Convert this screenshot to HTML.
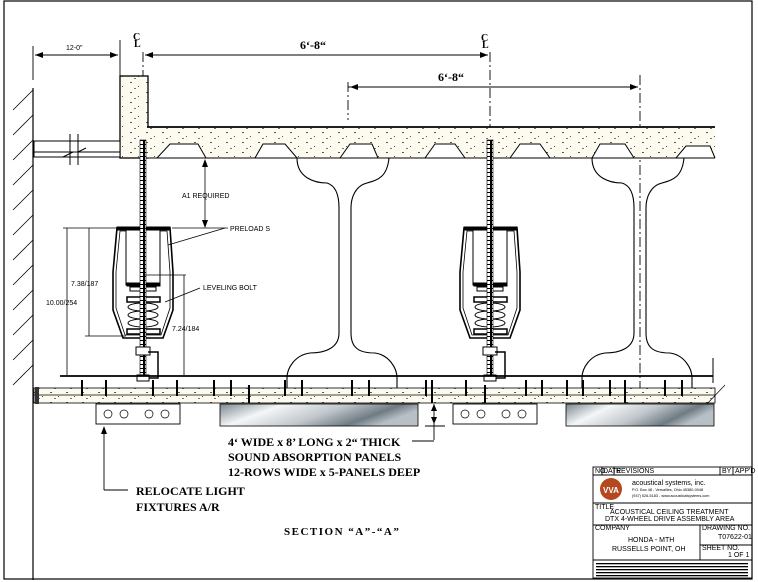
<!DOCTYPE html>
<html><head><meta charset="utf-8"><style>
html,body{margin:0;padding:0;background:#fff;}
svg{display:block;}
.t{font-family:"Liberation Sans",sans-serif;font-size:7px;fill:#000;}
.b{font-family:"Liberation Serif",serif;font-weight:bold;fill:#000;}
</style></head><body>
<svg width="758" height="582" viewBox="0 0 758 582" xmlns="http://www.w3.org/2000/svg">
<defs>
<pattern id="dots" width="16" height="10" patternUnits="userSpaceOnUse">
<rect width="16" height="10" fill="#fdfbef"/>
<rect x="2" y="2" width="2" height="1" fill="#555"/><rect x="10" y="6" width="1" height="1" fill="#555"/><rect x="6" y="8" width="2" height="1" fill="#777"/>
</pattern>
<pattern id="thr" width="6" height="4" patternUnits="userSpaceOnUse">
<rect width="6" height="4" fill="#fff"/><rect x="0" y="0" width="6" height="1" fill="#000"/><rect x="0" y="0" width="1" height="4" fill="#000"/><rect x="5" y="0" width="1" height="4" fill="#000"/>
</pattern>
<linearGradient id="gp" x1="0" y1="0" x2="1" y2="0.3">
<stop offset="0" stop-color="#7c8790"/><stop offset="0.3" stop-color="#f4f6f7"/><stop offset="0.6" stop-color="#c0c6cb"/><stop offset="0.85" stop-color="#6f7b84"/><stop offset="1" stop-color="#b8c0c6"/>
</linearGradient>
<g id="iso" fill="none" stroke="#000">
<path d="M117,228 L170,228 L173,272 L173,310 L163,338 L123,338 L113,310 L113,272 Z" stroke-width="1.6"/>
<path d="M120,231 L167,231 L170,272 L170,308 L161,335 L125,335 L116,308 L116,272 Z" stroke-width="0.8"/>
<rect x="126" y="230" width="34" height="55" fill="#fff"/>
<rect x="117" y="227" width="53" height="3" fill="#000"/>
<rect x="127" y="283" width="33" height="3" fill="#000"/>
<rect x="130" y="287" width="26" height="4" fill="#fff"/>
<rect x="127" y="297" width="33" height="5" fill="#fff" stroke-width="1.5"/>
<ellipse cx="143" cy="307" rx="15" ry="4"/><ellipse cx="143" cy="315" rx="15" ry="4"/><ellipse cx="143" cy="323" rx="15" ry="4"/>
<rect x="127" y="329" width="33" height="5" fill="#fff" stroke-width="1.5"/>
<rect x="140" y="140" width="6" height="238" fill="url(#thr)" stroke-width="0.6"/>
<rect x="136" y="347" width="14" height="8" fill="#fff"/>
<path d="M148,352 L158,352 L158,378 L148,378" stroke-width="1.5"/>
<rect x="137" y="375" width="12" height="6" fill="#fff"/>
</g>
<g id="beam" fill="none" stroke="#000" stroke-width="1.1">
<path d="M-48,0 C-48,20 -30,25 -18,25 C-8,28 -6,40 -6,50 L-6,175 C-6,190 -20,195 -35,195 C-50,197 -58,210 -58,220 L-58,235 L52,235 L52,220 C52,210 44,197 30,195 C14,195 6,190 6,175 L6,50 C6,40 10,28 22,25 C32,22 42,20 44,0"/>
</g>
</defs>

<rect x="4" y="1" width="748" height="578" fill="none" stroke="#000" stroke-width="1.2"/>

<line x1="33" y1="88" x2="33" y2="580" stroke="#000" stroke-width="1.2"/>
<g stroke="#000" stroke-width="0.8">
<line x1="13" y1="110" x2="33" y2="90"/><line x1="13" y1="135" x2="33" y2="115"/><line x1="13" y1="160" x2="33" y2="140"/><line x1="13" y1="185" x2="33" y2="165"/><line x1="13" y1="210" x2="33" y2="190"/><line x1="13" y1="235" x2="33" y2="215"/><line x1="13" y1="260" x2="33" y2="240"/><line x1="13" y1="285" x2="33" y2="265"/><line x1="13" y1="310" x2="33" y2="290"/><line x1="13" y1="335" x2="33" y2="315"/><line x1="13" y1="360" x2="33" y2="340"/><line x1="13" y1="385" x2="33" y2="365"/>
</g>

<g stroke="#000" stroke-width="0.9" fill="none">
<line x1="33" y1="46" x2="33" y2="80"/><line x1="120" y1="40" x2="120" y2="76"/>
<line x1="35" y1="55" x2="118" y2="55"/>
<line x1="145" y1="55" x2="488" y2="55"/>
<line x1="348" y1="87" x2="638" y2="87"/>
<line x1="143" y1="52" x2="143" y2="380" stroke-dasharray="10,3,2,3"/>
<line x1="490" y1="52" x2="490" y2="380" stroke-dasharray="10,3,2,3"/>
<line x1="348" y1="82" x2="348" y2="120" stroke-dasharray="10,3,2,3"/>
<line x1="640" y1="75" x2="640" y2="400" stroke-dasharray="10,3,2,3"/>
</g>
<g fill="#000">
<path d="M35,55 l8,-3 v6z"/><path d="M118,55 l-8,-3 v6z"/><path d="M145,55 l8,-3 v6z"/><path d="M488,55 l-8,-3 v6z"/><path d="M350,87 l8,-3 v6z"/><path d="M638,87 l-8,-3 v6z"/>
</g>
<text x="66" y="50" class="t" font-size="8">12-0"</text>
<text x="300" y="49" class="b" font-size="12">6‘-8“</text>
<text x="438" y="81" class="b" font-size="12">6‘-8“</text>
<text x="133" y="40" class="b" font-size="10">C</text><text x="134" y="47" class="b" font-size="10">L</text>
<text x="481" y="41" class="b" font-size="10">C</text><text x="482" y="48" class="b" font-size="10">L</text>

<rect x="120" y="76" width="28" height="82" fill="url(#dots)" stroke="#000" stroke-width="1.3"/>
<path d="M147,127 L715,127 L715,158 L147,158 Z" fill="url(#dots)"/>
<line x1="147" y1="127" x2="715" y2="127" stroke="#000" stroke-width="1.8"/>
<path d="M120,158 L157,158 L170,144 L198,144 L206,158 L255,158 L263,144 L285,144 L297,158 L340,158 L350,144 L372,144 L378,158 L425,158 L435,144 L455,144 L465,158 L510,158 L520,144 L540,144 L550,158 L592,158 L600,144 L625,144 L634,158 L676,158 L686,146 L710,146 L715,158" fill="#fff" stroke="#000" stroke-width="1"/>
<line x1="120" y1="158" x2="715" y2="158" stroke="#000" stroke-width="1"/>
<rect x="34" y="141" width="86" height="16" fill="#fff" stroke="#000" stroke-width="1"/>
<line x1="34" y1="152" x2="120" y2="152" stroke="#000"/>
<g stroke="#000"><line x1="70" y1="134" x2="70" y2="165"/><line x1="78" y1="134" x2="78" y2="165"/><path d="M63,157 l10,-5 l5,0 l8,-4" fill="none"/></g>

<use href="#beam" x="345" y="158"/>
<use href="#beam" x="640" y="158"/>

<use href="#iso"/>
<use href="#iso" x="347"/>

<g stroke="#000" stroke-width="0.8" fill="none">
<line x1="205" y1="163" x2="205" y2="226"/>
<line x1="172" y1="228" x2="228" y2="228"/>
<line x1="168" y1="245" x2="225" y2="228"/>
<line x1="165" y1="302" x2="200" y2="288"/>
<line x1="67" y1="228" x2="67" y2="375"/><line x1="63" y1="228" x2="118" y2="228"/>
<line x1="89" y1="228" x2="89" y2="336"/><line x1="85" y1="336" x2="126" y2="336"/>
<line x1="184" y1="275" x2="184" y2="375"/><line x1="145" y1="275" x2="186" y2="275"/>
</g>
<path d="M205,159 l-3,8 h6z M205,228 l-3,-8 h6z" fill="#000"/>
<text x="182" y="198" class="t" font-size="6.5">A1 REQUIRED</text>
<text x="230" y="231" class="t">PRELOAD S</text>
<text x="203" y="290" class="t">LEVELING BOLT</text>
<text x="71" y="286" class="t">7.38/187</text>
<text x="46" y="305" class="t">10.00/254</text>
<text x="172" y="331" class="t">7.24/184</text>

<line x1="60" y1="376" x2="713" y2="376" stroke="#000" stroke-width="1.8"/>
<rect x="34" y="388" width="681" height="15" fill="url(#dots)" stroke="#000" stroke-width="0.8"/>
<line x1="34" y1="395" x2="715" y2="395" stroke="#000" stroke-width="0.8"/>
<rect x="35" y="387" width="4" height="17" fill="#333"/>
<g stroke="#000" stroke-width="2">
<line x1="82" y1="380" x2="82" y2="396"/><line x1="106" y1="380" x2="106" y2="396"/><line x1="153" y1="380" x2="153" y2="396"/><line x1="177" y1="380" x2="177" y2="396"/><line x1="214" y1="380" x2="214" y2="396"/><line x1="231" y1="380" x2="231" y2="396"/><line x1="249" y1="385" x2="249" y2="403"/><line x1="285" y1="380" x2="285" y2="396"/><line x1="302" y1="380" x2="302" y2="396"/><line x1="352" y1="380" x2="352" y2="396"/><line x1="369" y1="380" x2="369" y2="396"/><line x1="426" y1="380" x2="426" y2="396"/><line x1="432" y1="380" x2="432" y2="403"/><line x1="466" y1="380" x2="466" y2="396"/><line x1="485" y1="385" x2="485" y2="403"/><line x1="526" y1="380" x2="526" y2="396"/><line x1="542" y1="380" x2="542" y2="396"/><line x1="567" y1="380" x2="567" y2="396"/><line x1="583" y1="380" x2="583" y2="396"/><line x1="610" y1="380" x2="610" y2="396"/><line x1="625" y1="380" x2="625" y2="403"/><line x1="665" y1="380" x2="665" y2="396"/><line x1="682" y1="380" x2="682" y2="396"/>
</g>
<line x1="713" y1="358" x2="713" y2="383" stroke="#000"/>
<line x1="705" y1="406" x2="725" y2="385" stroke="#000" stroke-width="0.7"/>

<g stroke="#000" stroke-width="0.9" fill="#fff">
<rect x="96" y="404" width="84" height="20"/>
<rect x="453" y="404" width="84" height="20"/>
</g>
<g fill="none" stroke="#000" stroke-width="0.7">
<circle cx="108" cy="414" r="4"/><circle cx="124" cy="414" r="4"/><circle cx="149" cy="414" r="4"/><circle cx="165" cy="414" r="4"/>
<circle cx="465" cy="414" r="4"/><circle cx="481" cy="414" r="4"/><circle cx="506" cy="414" r="4"/><circle cx="522" cy="414" r="4"/>
</g>
<rect x="220" y="404" width="198" height="22" fill="url(#gp)" stroke="#000" stroke-width="0.8"/>
<rect x="566" y="404" width="148" height="22" fill="url(#gp)" stroke="#000" stroke-width="0.8"/>
<g stroke="#000" stroke-width="0.9" fill="none">
<line x1="434" y1="404" x2="434" y2="440"/>
<line x1="412" y1="441" x2="434" y2="441"/>
<line x1="425" y1="426" x2="445" y2="426"/>
<line x1="104" y1="430" x2="104" y2="490"/><line x1="104" y1="490" x2="128" y2="490"/>
</g>
<path d="M434,404 l-3,7 h6z M434,424 l-3,-7 h6z M104,426 l-3,8 h6z" fill="#000"/>

<text x="228" y="446" class="b" font-size="12">4‘ WIDE x 8’ LONG x 2“ THICK</text>
<text x="228" y="461" class="b" font-size="12">SOUND ABSORPTION PANELS</text>
<text x="228" y="476" class="b" font-size="12">12-ROWS WIDE x 5-PANELS DEEP</text>
<text x="136" y="495" class="b" font-size="12">RELOCATE LIGHT</text>
<text x="136" y="511" class="b" font-size="12">FIXTURES A/R</text>
<text x="284" y="535" class="b" font-size="11" letter-spacing="1.5">SECTION “A”-“A”</text>

<g stroke="#000" stroke-width="0.9" fill="none">
<rect x="593" y="467" width="159" height="111"/>
<line x1="593" y1="475" x2="752" y2="475"/>
<line x1="602" y1="467" x2="602" y2="475"/><line x1="614" y1="467" x2="614" y2="475"/><line x1="720" y1="467" x2="720" y2="475"/><line x1="733" y1="467" x2="733" y2="475"/>
<line x1="593" y1="503" x2="752" y2="503"/>
<line x1="593" y1="525" x2="752" y2="525"/>
<line x1="700" y1="525" x2="700" y2="560"/>
<line x1="700" y1="545" x2="752" y2="545"/>
<line x1="593" y1="560" x2="752" y2="560"/>
</g>
<circle cx="611" cy="489" r="11" fill="#b5481e"/>
<text x="603" y="493" font-family="Liberation Sans,sans-serif" font-size="8" font-weight="bold" fill="#fff">VVA</text>
<g class="t" font-size="4.5">
<text x="595" y="473">NO.</text><text x="603" y="473">DATE</text><text x="616" y="473">REVISIONS</text><text x="722" y="473">BY</text><text x="735" y="473">APP'D</text>
<text x="595" y="509">TITLE</text>
<text x="595" y="530">COMPANY</text>
<text x="702" y="530">DRAWING NO.</text>
<text x="702" y="550">SHEET NO.</text>
<text x="632" y="491" font-size="3.8">P.O. Box 48 - Versailles, Ohio 45380-0048</text>
<text x="632" y="497" font-size="3.8">(937) 526-5183 - www.acousticalsystems.com</text>
</g>
<text x="632" y="485" class="t" font-size="8">acoustical systems, inc.</text>
<g class="t" font-size="6">
<text x="610" y="514">ACOUSTICAL CEILING TREATMENT</text>
<text x="605" y="521">DTX 4-WHEEL DRIVE ASSEMBLY AREA</text>
<text x="628" y="542">HONDA - MTH</text>
<text x="612" y="551">RUSSELLS POINT, OH</text>
<text x="718" y="539">T07622-01</text>
<text x="728" y="557">1 OF 1</text>
</g>
<g fill="#000">
<rect x="596" y="563" width="152" height="1.3"/><rect x="596" y="566" width="152" height="1.3"/><rect x="596" y="569" width="152" height="1.3"/><rect x="596" y="572" width="152" height="1.3"/><rect x="596" y="575" width="152" height="1.3"/>
</g>
</svg>
</body></html>
